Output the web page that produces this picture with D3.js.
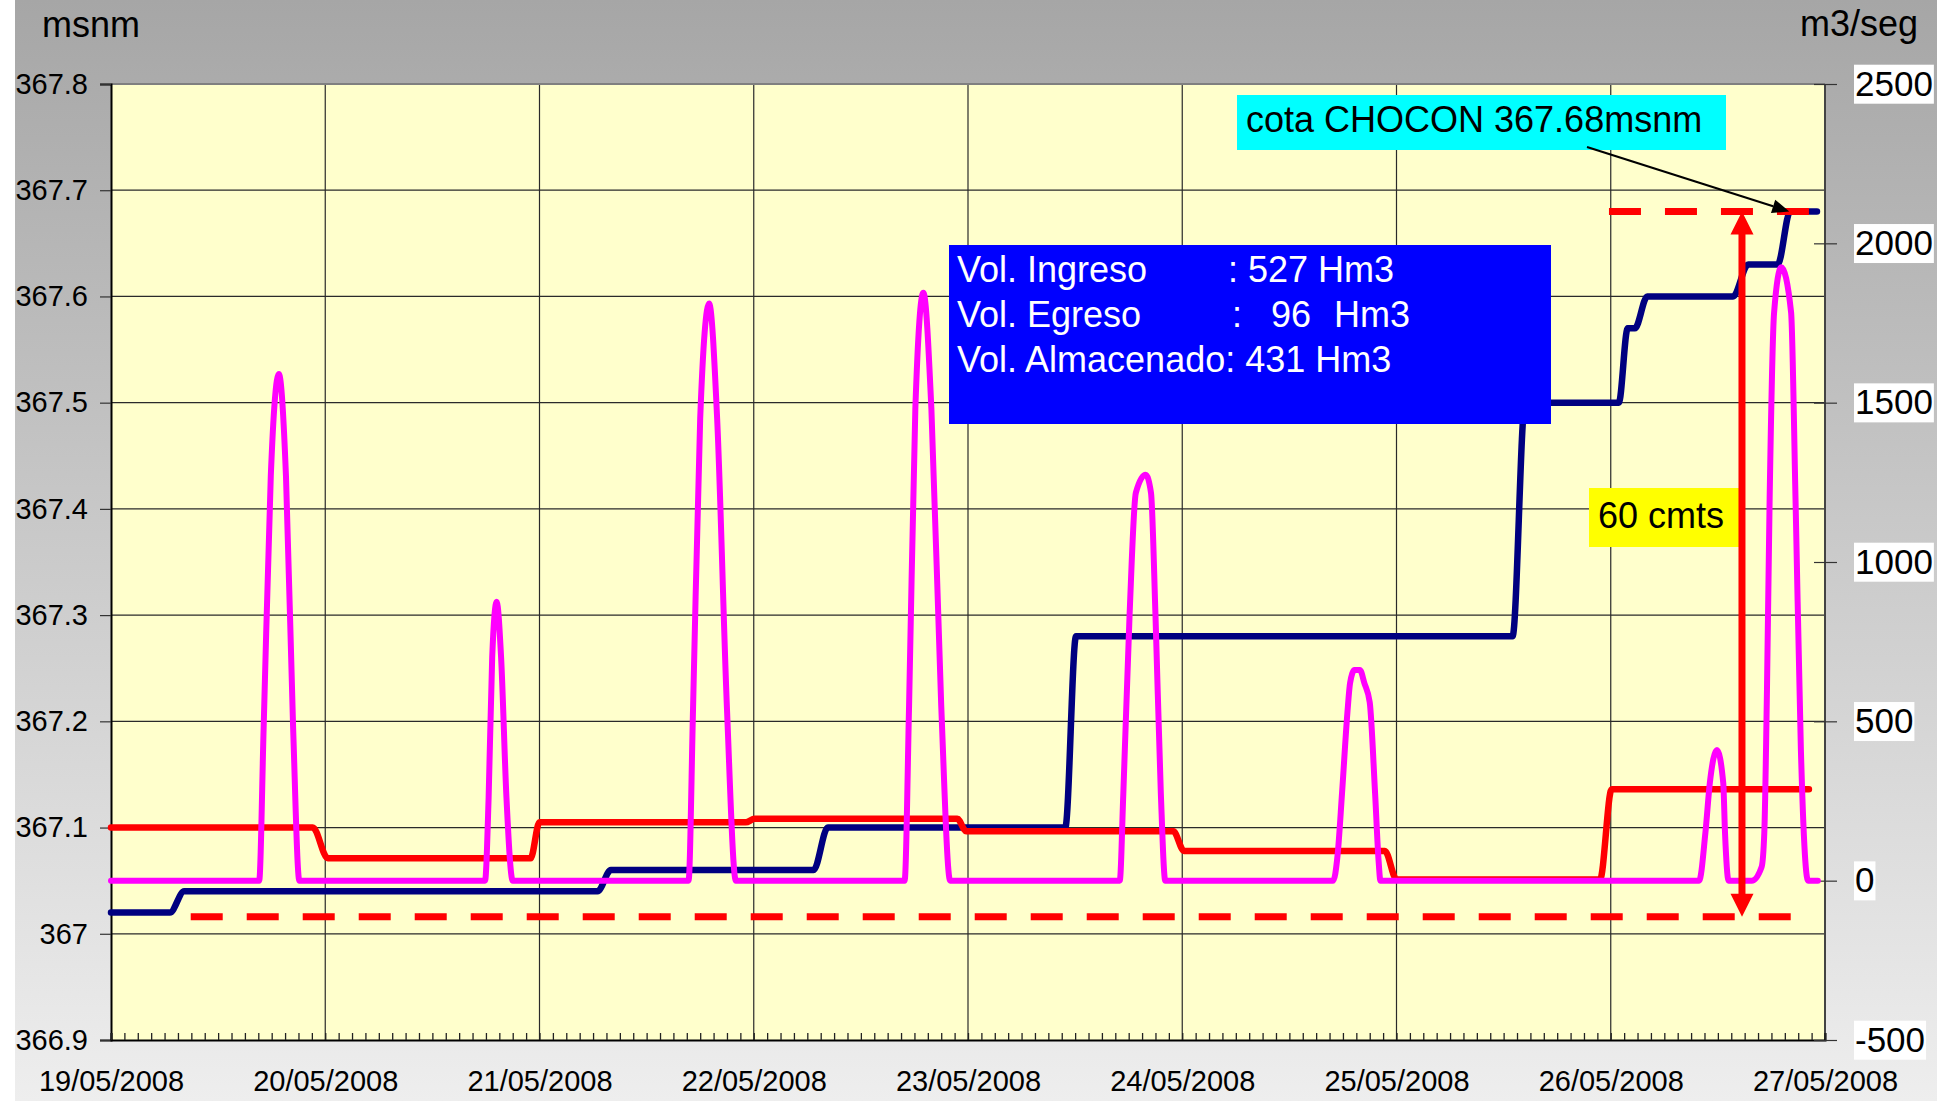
<!DOCTYPE html>
<html><head><meta charset="utf-8">
<script src="https://cdn.jsdelivr.net/npm/d3@7"></script>
<style>
html,body{margin:0;padding:0;background:#fff;}
svg text{font-family:"Liberation Sans",Arial,sans-serif;}
</style></head><body>
<svg id="chart" width="1960" height="1101"></svg>
<script>
// ---------------- DATA ----------------
const startDate = Date.UTC(2008, 4, 19);          // 19/05/2008 00:00
const dayLabels = ["19/05/2008","20/05/2008","21/05/2008","22/05/2008","23/05/2008","24/05/2008","25/05/2008","26/05/2008","27/05/2008"];
const leftTicks = [366.9, 367.0, 367.1, 367.2, 367.3, 367.4, 367.5, 367.6, 367.7, 367.8];
const rightTicks = [-500, 0, 500, 1000, 1500, 2000, 2500];

// Cota embalse (msnm) - hours since 19/05 00:00
const cotaHours  = [0, 6.6, 8.2, 54.5, 56.0, 78.7, 80.3, 106.9, 108.1, 157.0, 158.4, 168.9, 169.9, 170.7, 172.1, 181.7, 183.4, 186.7, 188.1, 191.1];
const cotaValues = [367.02, 367.02, 367.04, 367.04, 367.06, 367.06, 367.10, 367.10, 367.28, 367.28, 367.50, 367.50, 367.57, 367.57, 367.60, 367.60, 367.63, 367.63, 367.68, 367.68];

// Caudal erogado (m3/seg)
const outHours  = [0, 22.6, 24.3, 47.0, 48.0, 71.1, 72.1, 94.8, 95.8, 119.0, 120.2, 142.7, 144.0, 166.8, 168.1, 190.2];
const outValues = [167, 167, 70, 70, 183, 183, 194, 194, 155, 155, 93, 93, 4, 4, 287, 287];

// Caudal ingresado (m3/seg)
const inHours = [0, 16.6, 17.1, 17.9, 18.8, 19.6, 20.4, 21.1,
  41.9, 42.3, 42.7, 43.2, 43.7, 44.3, 45.0,
  64.7, 65.2, 66.0, 67.0, 67.9, 69.0, 70.0,
  88.9, 89.4, 90.1, 91.0, 91.9, 93.0, 94.0,
  113.0, 113.4, 114.1, 114.8, 115.9, 116.5, 117.0, 117.6, 118.1,
  136.9, 137.4, 137.9, 138.5, 138.8, 139.3, 139.9, 140.4, 141.0, 141.6, 142.0, 142.2,
  177.9, 178.6, 179.1, 179.9, 180.6, 180.8, 181.2,
  183.8, 184.9, 185.2, 185.5, 185.8, 186.3, 187.1, 188.2, 188.7, 189.3, 189.8, 190.1, 191.2];
const inValues = [0, 0, 480, 1270, 1590, 1270, 480, 0,
  0, 260, 700, 875, 700, 260, 0,
  0, 540, 1450, 1811, 1450, 540, 0,
  0, 550, 1480, 1845, 1480, 550, 0,
  0, 275, 834, 1217, 1274, 1217, 834, 275, 0,
  0, 80, 275, 527, 620, 661, 661, 620, 560, 275, 60, 0,
  0, 150, 307, 410, 307, 150, 0,
  0, 43, 150, 600, 1200, 1784, 1925, 1784, 1195, 410, 60, 0, 0];

// Reference levels (msnm) and their extents (hours)
const refLevels = [367.68, 367.016];
const refStart  = [167.8, 8.93];
const refEnd    = [190.2, 188.2];
const arrowHour = 182.7;
const pointerTip = {hour: 188.0, level: 367.68};

const infoLines = ["Vol. Ingreso", "Vol. Egreso", "Vol. Almacenado: 431 Hm3"];

// ---------------- LAYOUT ----------------
const W = 1960, H = 1101;
const P = {left: 111, right: 1825, top: 84, bottom: 1040};
const svg = d3.select("#chart");
const toDate = h => new Date(startDate + h * 3600e3);

const x = d3.scaleUtc().domain([toDate(0), toDate(192)]).range([P.left, P.right]);
const yL = d3.scaleLinear().domain([366.9, 367.8]).range([P.bottom, P.top]);
const yR = d3.scaleLinear().domain([-500, 2500]).range([P.bottom, P.top]);

// background
const defs = svg.append("defs");
const g0 = defs.append("linearGradient").attr("id", "bg").attr("x1", 0).attr("y1", 0).attr("x2", 0).attr("y2", 1);
g0.append("stop").attr("offset", "0%").attr("stop-color", "#a6a6a6");
g0.append("stop").attr("offset", "100%").attr("stop-color", "#eeeeee");
svg.append("rect").attr("width", W).attr("height", H).attr("fill", "#fff");
svg.append("rect").attr("x", 15).attr("y", 0).attr("width", 1922).attr("height", H).attr("fill", "url(#bg)");

// plot area
svg.append("rect").attr("x", P.left).attr("y", P.top).attr("width", P.right - P.left).attr("height", P.bottom - P.top).attr("fill", "#ffffcc");

// grid
const dayDates = dayLabels.map((d, i) => toDate(i * 24));
svg.append("g").selectAll("line").data(leftTicks.slice(1, -1)).join("line")
  .attr("x1", P.left).attr("x2", P.right).attr("y1", d => yL(d)).attr("y2", d => yL(d))
  .attr("stroke", "#2a2a2a").attr("stroke-width", 1.2);
svg.append("g").selectAll("line").data(dayDates.slice(1, -1)).join("line")
  .attr("x1", d => x(d)).attr("x2", d => x(d)).attr("y1", P.top).attr("y2", P.bottom)
  .attr("stroke", "#2a2a2a").attr("stroke-width", 1.2);

// borders
svg.append("line").attr("x1", P.left).attr("x2", P.right).attr("y1", P.top).attr("y2", P.top).attr("stroke", "#808080").attr("stroke-width", 2);
svg.append("line").attr("x1", P.right).attr("x2", P.right).attr("y1", P.top).attr("y2", P.bottom).attr("stroke", "#444").attr("stroke-width", 2);

// left axis
const axL = svg.append("g").attr("transform", `translate(${P.left},0)`)
  .call(d3.axisLeft(yL).tickValues(leftTicks).tickSize(11).tickPadding(12)
    .tickFormat(d => String(+d.toFixed(1))));
axL.select(".domain").attr("stroke", "#000").attr("stroke-width", 2);
axL.selectAll(".tick line").attr("stroke", "#333").attr("stroke-width", 1.2);
axL.selectAll("text").attr("font-size", 29).attr("fill", "#000").attr("font-family", "Liberation Sans, Arial, sans-serif");

// bottom axis: minor ticks (every 90 min) + day labels
const minorTicks = d3.range(0, 192.01, 1.5).map(toDate);
const axM = svg.append("g").attr("transform", `translate(0,${P.bottom})`)
  .call(d3.axisBottom(x).tickValues(minorTicks).tickSize(-7).tickFormat(""));
axM.select(".domain").attr("stroke", "#000").attr("stroke-width", 2);
axM.selectAll(".tick line").attr("stroke", "#222").attr("stroke-width", 1.3);
const axB = svg.append("g").attr("transform", `translate(0,${P.bottom})`)
  .call(d3.axisBottom(x).tickValues(dayDates).tickSize(0).tickPadding(30)
    .tickFormat((d, i) => dayLabels[i]));
axB.select(".domain").remove();
axB.selectAll("text").attr("font-size", 29).attr("fill", "#000").attr("font-family", "Liberation Sans, Arial, sans-serif");

// right axis
const axR = svg.append("g").attr("transform", `translate(${P.right},0)`)
  .call(d3.axisRight(yR).tickValues(rightTicks).tickSize(0).tickPadding(30).tickFormat(d => String(d)));
axR.select(".domain").remove();
axR.selectAll(".tick").append("line").attr("x1", -11).attr("x2", 12).attr("stroke", "#333").attr("stroke-width", 1.2);
axR.selectAll("text").attr("font-size", 35).attr("fill", "#000").attr("font-family", "Liberation Sans, Arial, sans-serif")
  .attr("text-anchor", "start");
axR.selectAll(".tick").each(function() {
  const t = d3.select(this).select("text");
  const b = t.node().getBBox();
  d3.select(this).insert("rect", "text").attr("x", b.x - 1).attr("y", b.y + 1).attr("width", b.width + 2).attr("height", b.height).attr("fill", "#fff");
});

// axis titles
svg.append("text").attr("x", 42).attr("y", 37).attr("font-size", 36).text("msnm");
svg.append("text").attr("x", 1918).attr("y", 36).attr("font-size", 36).attr("text-anchor", "end").text("m3/seg");

// series
const curve = d3.curveMonotoneX;
const lineL = d3.line().x(d => x(toDate(d[0]))).y(d => yL(d[1])).curve(curve);
const lineR = d3.line().x(d => x(toDate(d[0]))).y(d => yR(d[1])).curve(curve);

svg.append("path").datum(d3.zip(cotaHours, cotaValues)).attr("d", lineL)
  .attr("fill", "none").attr("stroke", "#000080").attr("stroke-width", 6.5).attr("stroke-linejoin", "round").attr("stroke-linecap", "round");
svg.append("path").datum(d3.zip(outHours, outValues)).attr("d", lineR)
  .attr("fill", "none").attr("stroke", "#ff0000").attr("stroke-width", 6.5).attr("stroke-linejoin", "round").attr("stroke-linecap", "round");
svg.append("path").datum(d3.zip(inHours, inValues)).attr("d", lineR)
  .attr("fill", "none").attr("stroke", "#ff00ff").attr("stroke-width", 6).attr("stroke-linejoin", "round").attr("stroke-linecap", "round");

// dashed reference levels
svg.append("g").selectAll("line").data(refLevels).join("line")
  .attr("x1", (d, i) => x(toDate(refStart[i]))).attr("x2", (d, i) => x(toDate(refEnd[i])))
  .attr("y1", d => yL(d)).attr("y2", d => yL(d))
  .attr("stroke", "#ff0000").attr("stroke-width", 7).attr("stroke-dasharray", "32,24");

// info box
svg.append("rect").attr("x", 949).attr("y", 245).attr("width", 602).attr("height", 179).attr("fill", "#0000ff");
const info = svg.append("g").attr("fill", "#fff").attr("font-size", 36);
info.append("text").attr("x", 957).attr("y", 282).text(infoLines[0]);
info.append("text").attr("x", 1228).attr("y", 282).text(": 527 Hm3");
info.append("text").attr("x", 957).attr("y", 327).text(infoLines[1]);
info.append("text").attr("x", 1232).attr("y", 327).text(":");
info.append("text").attr("x", 1271).attr("y", 327).text("96");
info.append("text").attr("x", 1334).attr("y", 327).text("Hm3");
info.append("text").attr("x", 957).attr("y", 372).text(infoLines[2]);

// 60 cmts label
svg.append("rect").attr("x", 1589).attr("y", 488).attr("width", 153).attr("height", 59).attr("fill", "#ffff00");
svg.append("text").attr("x", 1598).attr("y", 528).attr("font-size", 36).text("60 cmts");

// red double arrow
const ax = x(toDate(arrowHour)), yTop = yL(refLevels[0]), yBot = yL(refLevels[1]);
svg.append("line").attr("x1", ax).attr("x2", ax).attr("y1", yTop + 20).attr("y2", yBot - 20).attr("stroke", "#ff0000").attr("stroke-width", 7);
svg.append("path").attr("d", `M${ax},${yTop} L${ax - 11.5},${yTop + 23} L${ax + 11.5},${yTop + 23} Z`).attr("fill", "#ff0000");
svg.append("path").attr("d", `M${ax},${yBot} L${ax - 11.5},${yBot - 23} L${ax + 11.5},${yBot - 23} Z`).attr("fill", "#ff0000");

// cota label
svg.append("rect").attr("x", 1237).attr("y", 95).attr("width", 489).attr("height", 55).attr("fill", "#00ffff");
svg.append("text").attr("x", 1246).attr("y", 132).attr("font-size", 36).text("cota CHOCON 367.68msnm");

// black pointer
const tx = x(toDate(pointerTip.hour)), ty = yL(pointerTip.level);
const sx = 1587, sy = 147;
const ang = Math.atan2(ty - sy, tx - sx);
const L = 17, Wd = 7;
const bx = tx - L * Math.cos(ang), by = ty - L * Math.sin(ang);
svg.append("line").attr("x1", sx).attr("y1", sy).attr("x2", bx).attr("y2", by).attr("stroke", "#000").attr("stroke-width", 2.2);
svg.append("path").attr("d", `M${tx},${ty} L${bx + Wd * Math.sin(ang)},${by - Wd * Math.cos(ang)} L${bx - Wd * Math.sin(ang)},${by + Wd * Math.cos(ang)} Z`).attr("fill", "#000");
</script>
</body></html>
